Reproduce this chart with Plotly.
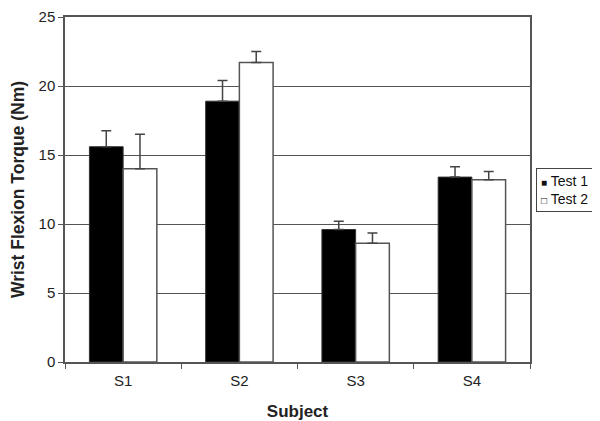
import plotly.graph_objects as go

subjects = ["S1", "S2", "S3", "S4"]
test1 = [15.6, 18.9, 9.6, 13.4]
test1_err = [1.15, 1.5, 0.6, 0.75]
test2 = [14.0, 21.7, 8.6, 13.2]
test2_err = [2.5, 0.8, 0.75, 0.6]

fig = go.Figure()
fig.add_bar(x=subjects, y=test1, name="Test 1",
            marker=dict(color="black", line=dict(color="#333", width=1)),
            error_y=dict(type="data", array=test1_err, arrayminus=[0] * 4,
                         symmetric=False, color="#444", thickness=1.5, width=5))
fig.add_bar(x=subjects, y=test2, name="Test 2",
            marker=dict(color="white", line=dict(color="#555", width=1.5)),
            error_y=dict(type="data", array=test2_err, arrayminus=[0] * 4,
                         symmetric=False, color="#444", thickness=1.5, width=5))

# compact legend box like the original (plotly's own legend is too wide for the margin)
fig.add_annotation(
    xref="paper", yref="paper", x=1.012, y=0.50, xanchor="left", yanchor="middle",
    text="<span style='font-size:10px'>■</span> Test 1<br><span style='font-size:10px'>□</span> Test 2",
    showarrow=False, align="left", font=dict(size=14, color="#111"),
    bordercolor="#444", borderwidth=1, borderpad=4, bgcolor="white",
)

# body has an 8px default margin, so the figure is made 8px smaller
fig.update_layout(
    width=592, height=413,
    barmode="group", bargap=0.42, bargroupgap=0,
    showlegend=False,
    plot_bgcolor="white", paper_bgcolor="white",
    font=dict(family="Liberation Sans, Arial", size=15, color="#222"),
    margin=dict(l=57, r=70, t=9, b=59, autoexpand=False),
    xaxis=dict(
        title=dict(text="<b>Subject</b>", font=dict(size=17), standoff=17),
        showline=True, linecolor="#555", linewidth=1.5, mirror=True,
        ticks="outside", ticklen=5, tickcolor="#555", ticklabelstandoff=4,
        tickson="boundaries", showgrid=False, automargin=False,
    ),
    yaxis=dict(
        title=dict(text="<b>Wrist Flexion Torque (Nm)</b>", font=dict(size=17.5), standoff=10),
        range=[0, 25], dtick=5,
        showline=True, linecolor="#555", linewidth=1.5, mirror=True,
        ticks="outside", ticklen=5, tickcolor="#555",
        ticklabeloverflow="allow",
        showgrid=True, gridcolor="#555", gridwidth=1.2,
        zeroline=False, automargin=False,
    ),
)

fig.write_html("out.html")
